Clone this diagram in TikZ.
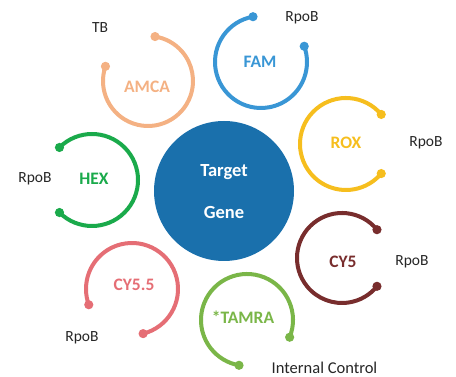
\documentclass[tikz,border=0pt]{standalone}
\usepackage{fontspec}
\setmainfont{Carlito}
\definecolor{cTarget}{RGB}{26,112,172}
\definecolor{cAMCA}{RGB}{244,177,131}
\definecolor{cFAM}{RGB}{57,150,213}
\definecolor{cROX}{RGB}{246,190,30}
\definecolor{cHEX}{RGB}{26,170,75}
\definecolor{cCYf}{RGB}{120,45,45}
\definecolor{cCYff}{RGB}{229,110,117}
\definecolor{cTAMRA}{RGB}{122,182,72}
\tikzset{
  ring/.style={line width=4pt},
  dye/.style={font=\fontsize{17.5}{20}\selectfont\bfseries, inner sep=0pt},
  lbl/.style={font=\fontsize{15.5}{18}\selectfont, text=black!85, inner sep=0pt},
  tg/.style={font=\fontsize{18.5}{22}\selectfont\bfseries, text=white, inner sep=0pt}
}
% \probering{color}{cx}{cy}{r}{start}{end}
\newcommand{\probering}[6]{%
  \draw[ring,#1] (#2,#3) ++(#5:#4) arc[start angle=#5, end angle=#6, radius=#4];
  \fill[#1] (#2,#3) ++(#5:#4) circle[radius=4.6];
  \fill[#1] (#2,#3) ++(#6:#4) circle[radius=4.6];
}
\begin{document}
\begin{tikzpicture}[x=1pt,y=1pt]
\useasboundingbox (0,0) rectangle (456,377);
% central circle
\fill[cTarget] (224,186) circle[radius=70];
\node[tg] (target) at (224,205) {Target};
\node[tg] (gene) at (224,164) {Gene};
% rings
\probering{cAMCA}{148}{296}{45}{161}{441}
\probering{cFAM}{261}{315}{46}{100}{380}
\probering{cROX}{346}{233}{46}{40}{320}
\probering{cHEX}{92}{197}{46}{225}{495}
\probering{cCYf}{342}{119}{45}{39}{321}
\probering{cCYff}{132}{88}{46}{284}{560}
\probering{cTAMRA}{247}{57}{46}{-22}{260}
% dye names
\node[dye,text=cAMCA] (amca) at (147,290) {AMCA};
\node[dye,text=cFAM] (fam) at (260,315) {FAM};
\node[dye,text=cROX] (rox) at (346,234) {ROX};
\node[dye,text=cHEX] (hex) at (94,198) {HEX};
\node[dye,text=cCYf] (cy5) at (343,115) {CY5};
\node[dye,text=cCYff] (cy55) at (134,92) {CY5.5};
\node[dye,text=cTAMRA] (tamra) at (243,60) {*TAMRA};
% targets
\node[lbl] (tb) at (100,349) {TB};
\node[lbl] (rpobfam) at (302,359) {RpoB};
\node[lbl] (rpobrox) at (426,234) {RpoB};
\node[lbl] (rpobhex) at (35,198) {RpoB};
\node[lbl] (rpobcy5) at (412,115) {RpoB};
\node[lbl] (rpobcy55) at (82,39) {RpoB};
\node[lbl,font=\fontsize{16.5}{19}\selectfont] (ic) at (324.5,9) {Internal Control};
\end{tikzpicture}
\end{document}
